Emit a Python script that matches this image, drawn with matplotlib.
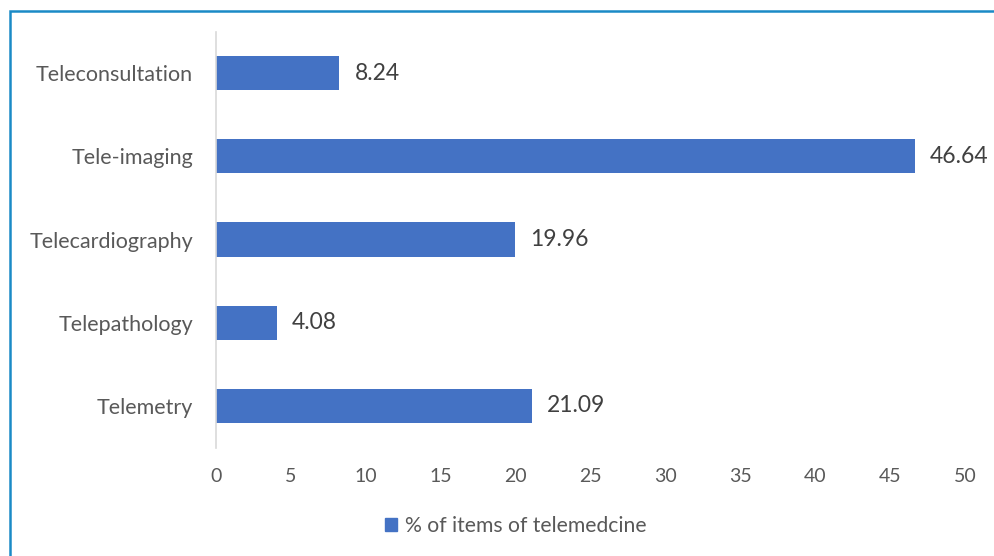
import matplotlib.pyplot as plt
import matplotlib.patches as mpatches

categories = ["Telemetry", "Telepathology", "Telecardiography", "Tele-imaging", "Teleconsultation"]
values = [21.09, 4.08, 19.96, 46.64, 8.24]
xticks = [0, 5, 10, 15, 20, 25, 30, 35, 40, 45, 50]
legend_label = "% of items of telemedcine"

BAR_COLOR = "#4472C4"
LABEL_GRAY = "#595959"
VALUE_GRAY = "#404040"

plt.rcParams["font.family"] = ["Lato", "DejaVu Sans"]

fig = plt.figure(figsize=(9.94, 5.56), dpi=100)
ax = fig.add_axes([0.2173, 0.1951, 0.7535, 0.7482])

y = range(len(categories))
ax.barh(y, values, height=0.41, color=BAR_COLOR)
for yi, v in zip(y, values):
    ax.text(v + 1.0, yi, f"{v:.2f}", va="center", ha="left",
            fontsize=16.5, color=VALUE_GRAY)

ax.set_xlim(0, 50)
ax.set_ylim(-0.5, len(categories) - 0.5)
ax.set_xticks(xticks)
ax.set_xticklabels([str(t) for t in xticks], fontsize=14, color=LABEL_GRAY)
ax.set_yticks(list(y))
ax.set_yticklabels(categories, fontsize=15.5, color=LABEL_GRAY)
ax.tick_params(axis="both", length=0)
ax.tick_params(axis="x", pad=15)
ax.tick_params(axis="y", pad=16.5)

for s in ["top", "right", "bottom"]:
    ax.spines[s].set_visible(False)
ax.spines["left"].set_color("#D9D9D9")
ax.spines["left"].set_linewidth(1.2)

handle = mpatches.Patch(color=BAR_COLOR, label=legend_label)
fig.legend(handles=[handle], loc="center", bbox_to_anchor=(0.519, 0.054),
           frameon=False, fontsize=15.2, handlelength=0.55, handleheight=0.55,
           handletextpad=0.4, labelcolor=LABEL_GRAY)

# outer blue frame (cut off at right and bottom)
frame = mpatches.Rectangle((10 / 994, -0.05), 1.0, 1 - 11 / 556 + 0.05,
                           transform=fig.transFigure, fill=False,
                           edgecolor="#1A8AC6", linewidth=1.8, clip_on=False)
fig.patches.append(frame)

fig.savefig("out.png", dpi=100)
